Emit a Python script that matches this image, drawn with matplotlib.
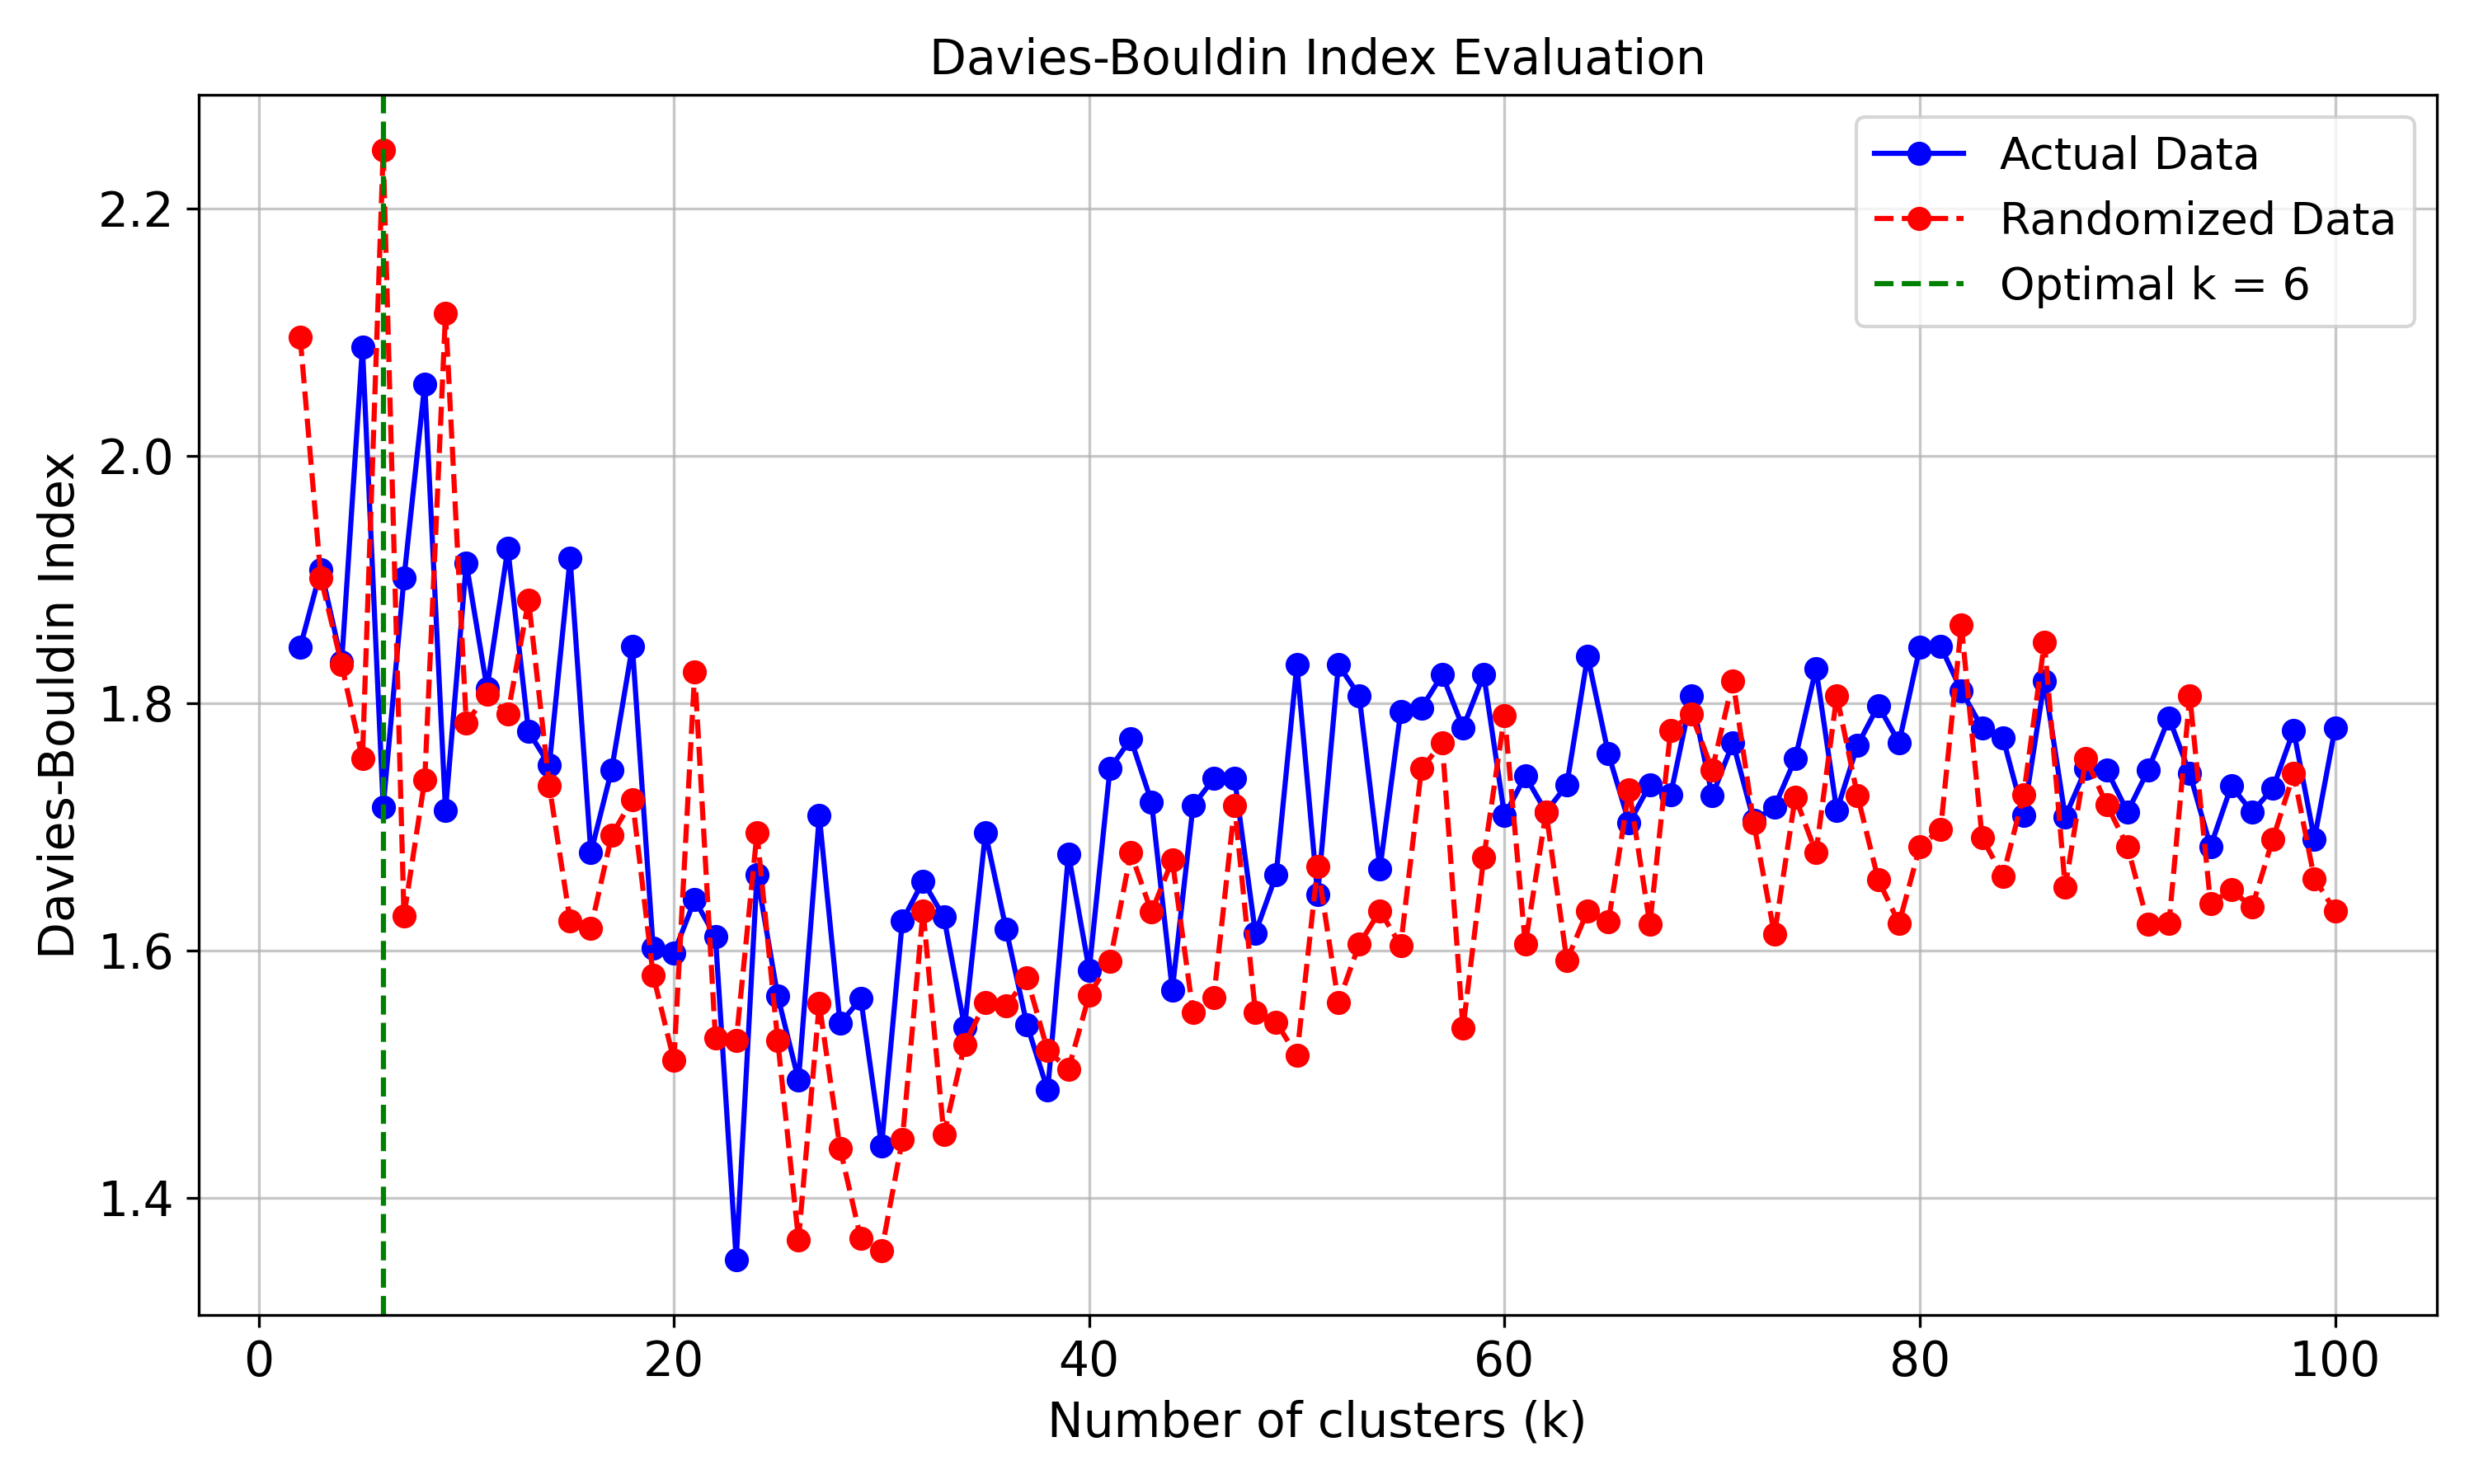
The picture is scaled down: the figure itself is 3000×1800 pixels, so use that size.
import numpy as np
import matplotlib.pyplot as plt

k_values = list(range(2, 101))

actual_db = [1.845, 1.908, 1.833, 2.088, 1.716, 1.901, 2.058, 1.713, 1.913, 1.812,
             1.925, 1.777, 1.750, 1.917, 1.679, 1.746, 1.846, 1.602, 1.598, 1.641,
             1.611, 1.350, 1.661, 1.563, 1.495, 1.709, 1.541, 1.561, 1.442, 1.624,
             1.656, 1.627, 1.538, 1.695, 1.617, 1.540, 1.487, 1.678, 1.584, 1.747,
             1.771, 1.720, 1.568, 1.717, 1.739, 1.739, 1.614, 1.661, 1.831, 1.645,
             1.831, 1.806, 1.666, 1.793, 1.796, 1.823, 1.780, 1.823, 1.709, 1.741,
             1.712, 1.734, 1.838, 1.759, 1.703, 1.734, 1.726, 1.806, 1.725, 1.768,
             1.705, 1.716, 1.755, 1.828, 1.713, 1.766, 1.798, 1.768, 1.845, 1.846,
             1.810, 1.780, 1.772, 1.709, 1.818, 1.708, 1.747, 1.746, 1.712, 1.746,
             1.788, 1.743, 1.684, 1.733, 1.712, 1.731, 1.778, 1.690, 1.780]

random_db = [2.096, 1.901, 1.831, 1.755, 2.247, 1.628, 1.738, 2.115, 1.784, 1.807,
             1.791, 1.883, 1.733, 1.624, 1.618, 1.693, 1.722, 1.580, 1.511, 1.825,
             1.529, 1.527, 1.695, 1.527, 1.366, 1.557, 1.440, 1.367, 1.357, 1.447,
             1.632, 1.451, 1.524, 1.558, 1.555, 1.578, 1.519, 1.504, 1.564, 1.591,
             1.679, 1.631, 1.673, 1.550, 1.562, 1.717, 1.550, 1.542, 1.515, 1.668,
             1.558, 1.605, 1.632, 1.604, 1.747, 1.768, 1.537, 1.675, 1.790, 1.605,
             1.712, 1.592, 1.632, 1.623, 1.730, 1.621, 1.778, 1.791, 1.746, 1.818,
             1.703, 1.613, 1.724, 1.679, 1.806, 1.725, 1.657, 1.622, 1.684, 1.698,
             1.863, 1.691, 1.660, 1.726, 1.849, 1.651, 1.755, 1.718, 1.684, 1.621,
             1.622, 1.806, 1.638, 1.649, 1.635, 1.690, 1.743, 1.658, 1.632]

optimal_k = 6

fig, ax = plt.subplots(figsize=(10, 6), dpi=300)
ax.plot(k_values, actual_db, 'bo-', label='Actual Data')
ax.plot(k_values, random_db, 'ro--', label='Randomized Data')
ax.axvline(optimal_k, color='green', linestyle='--', label='Optimal k = ' + str(optimal_k))

ax.set_title('Davies-Bouldin Index Evaluation', fontsize=14)
ax.set_xlabel('Number of clusters (k)', fontsize=14)
ax.set_ylabel('Davies-Bouldin Index', fontsize=14)
ax.tick_params(labelsize=14)
ax.set_yticks([1.4, 1.6, 1.8, 2.0, 2.2])
ax.grid(True, alpha=0.7)
ax.legend(fontsize=13)

plt.tight_layout()
plt.savefig('out.png')
